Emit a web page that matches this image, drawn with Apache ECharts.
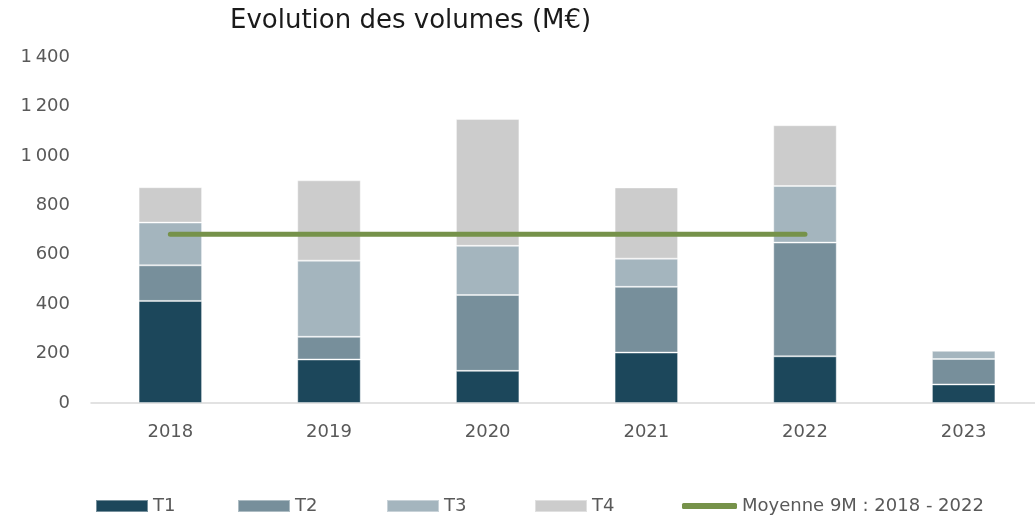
<!DOCTYPE html>
<html>
<head>
<meta charset="utf-8">
<script src="https://cdn.jsdelivr.net/npm/echarts@6/dist/echarts.min.js"></script>
<style>
	html, body { margin: 0; padding: 0; background: #fff; }
	#chart { width: 1035px; height: 520px; }
</style>
</head>
<body>
<div id="chart"></div>
<script>
const years = ["2018", "2019", "2020", "2021", "2022", "2023"];
const t1 = [413, 176, 130, 204, 189, 75];
const t2 = [144, 92, 307, 266, 460, 103];
const t3 = [173, 308, 199, 114, 229, 33];
const t4 = [143, 325, 513, 288, 246, null];
const moyenne = [683, 683, 683, 683, 683, null];

const seriesNames = ["T1", "T2", "T3", "T4", "Moyenne 9M : 2018 - 2022"];
const colours = ["#1c475b", "#778f9b", "#a4b5be", "#cccccc", "#76924a"];
const legendLeft = [95, 237, 386, 534, 682];

const fontFamily = "DejaVu Sans";
const textColour = "#595959";

function formatThousands(v) {
	return String(v).replace(/\B(?=(\d{3})+(?!\d))/g, "\u2009");
}

function barSeries(name, data, colour) {
	return {
		name: name,
		type: "bar",
		stack: "vol",
		barWidth: "40%",
		data: data,
		itemStyle: { color: colour, borderColor: "rgba(255,255,255,0.4)", borderWidth: 1 },
	};
}

const chartDom = document.getElementById("chart");
const myChart = echarts.init(chartDom);

const option = {
	animation: false,
	backgroundColor: "#ffffff",
	title: {
		text: "Evolution des volumes (M€)",
		left: 225,
		top: 3,
		textStyle: { fontFamily: fontFamily, fontSize: 26, fontWeight: "normal", color: "#1a1a1a" },
	},
	legend: seriesNames.map((name, i) => ({
		data: [name],
		left: legendLeft[i],
		top: 497,
		padding: 0,
		itemWidth: i === 4 ? 55 : 52,
		itemHeight: i === 4 ? 6 : 12,
		itemGap: 0,
		icon: i === 4 ? "roundRect" : "rect",
		textStyle: { fontFamily: fontFamily, fontSize: 18, color: textColour },
	})),
	grid: { left: 91, top: 57, width: 952, height: 346, outerBoundsMode: "none", containLabel: false },
	xAxis: {
		type: "category",
		data: years,
		axisLine: { lineStyle: { color: "#d9d9d9", width: 1.5 } },
		axisTick: { show: false },
		axisLabel: { margin: 20, fontFamily: fontFamily, fontSize: 18, color: textColour },
	},
	yAxis: {
		type: "value",
		min: 0,
		max: 1400,
		interval: 200,
		splitLine: { show: false },
		axisLine: { show: false },
		axisTick: { show: false },
		axisLabel: {
			margin: 21,
			fontFamily: fontFamily,
			fontSize: 18,
			color: textColour,
			formatter: formatThousands,
		},
	},
	series: [
		barSeries(seriesNames[0], t1, colours[0]),
		barSeries(seriesNames[1], t2, colours[1]),
		barSeries(seriesNames[2], t3, colours[2]),
		barSeries(seriesNames[3], t4, colours[3]),
		{
			name: seriesNames[4],
			type: "line",
			data: moyenne,
			symbol: "none",
			z: 5,
			lineStyle: { color: colours[4], width: 5, cap: "round" },
			itemStyle: { color: colours[4] },
		},
	],
};

myChart.setOption(option);
</script>
</body>
</html>
